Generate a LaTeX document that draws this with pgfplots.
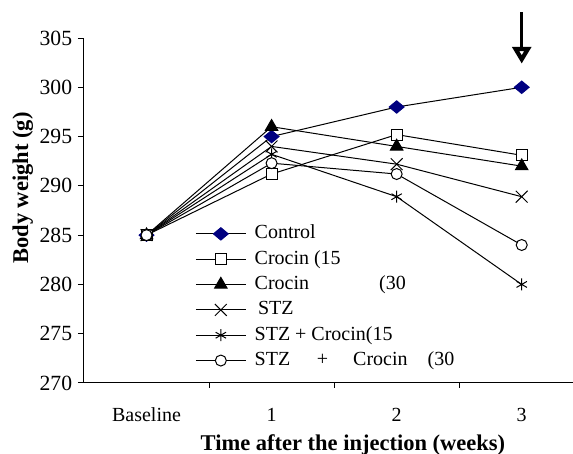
\documentclass[border=0pt]{standalone}
\usepackage{fontspec}
\setmainfont{Liberation Serif}
\usepackage{pgfplots}
\pgfplotsset{compat=1.18}
\usetikzlibrary{arrows.meta,calc}
\definecolor{navy}{RGB}{0,0,128}

\begin{document}
\begin{tikzpicture}
\begin{axis}[
  scale only axis, width=293.4pt, height=207pt,
  xmin=-0.5, xmax=3.41, ymin=270, ymax=305,
  axis x line*=bottom, axis y line*=left,
  axis line style={-, line width=0.6pt},
  clip=false,
  /pgf/number format/assume math mode=true,
  ytick={270,275,...,305},
  xtick={0,1,2,3}, xticklabels={Baseline,1,2,3},
  major x tick style={draw=none},
  minor xtick={0.5,1.5,2.5},
  tick align=outside,
  major tick length=3.6pt, minor tick length=3pt,
  tick style={line width=0.6pt, black},
  yticklabel style={font=\fontsize{13}{13}\selectfont},
  xticklabel style={font=\fontsize{12}{12}\selectfont, anchor=base, yshift=-19.8pt},
  every axis y label/.style={at={(axis description cs:-0.1145,0.565)}, anchor=base, rotate=90, font=\fontsize{13.5}{14}\selectfont\bfseries},
  every axis x label/.style={at={(axis description cs:0.55,-0.197)}, anchor=base, font=\fontsize{13.5}{14}\selectfont\bfseries},
  ylabel={Body weight (g)},
  xlabel={Time after the injection (weeks)},
  legend style={draw=none, fill=none, at={(axis description cs:0.227,0.467)}, anchor=north west,
    font=\fontsize{12}{12}\selectfont, row sep=1.2pt, inner sep=0pt,
    nodes={inner sep=1pt, text height=9pt, text depth=3pt},
    /tikz/every odd column/.append style={column sep=4pt},
    cells={anchor=west}},
  legend image code/.code={\draw[mark repeat=2,mark phase=2,#1] plot coordinates {(0pt,0pt) (15pt,0pt) (30pt,0pt)};},
  every axis plot/.append style={line width=0.6pt},
]
\addplot[black, mark=diamond*, mark size=3.7pt, mark options={fill=navy, draw=navy, xscale=1.6}]
  coordinates {(0,285) (1,295) (2,298) (3,300)};
\addlegendentry{Control}
\addplot[black, mark=square*, mark size=3.3pt, mark options={fill=white, draw=black}]
  coordinates {(0,285) (1,291.2) (2,295.2) (3,293.1)};
\addlegendentry{Crocin (15}
\addplot[black, mark=triangle*, mark size=4.3pt, mark options={fill=black}]
  coordinates {(0,285) (1,296) (2,294) (3,292)};
\addlegendentry{Crocin\hspace{42pt}(30}
\addplot[black, mark=x, mark size=5pt]
  coordinates {(0,285) (1,294) (2,292.2) (3,288.9)};
\addlegendentry{\hspace{2pt}STZ}
\addplot[black, mark=asterisk, mark size=3.6pt]
  coordinates {(0,285) (1,293.2) (2,288.9) (3,280)};
\addlegendentry{STZ + Crocin(15}
\addplot[black, mark=*, mark size=3.3pt, mark options={fill=white, draw=black}]
  coordinates {(0,285) (1,292.3) (2,291.2) (3,284)};
\addlegendentry{STZ\hspace{16pt}+\hspace{15pt}Crocin\hspace{12pt}(30}
\draw[line width=1.8pt, -{Triangle[open, length=10pt, width=11pt, line width=2.6pt]}]
  (axis cs:3,307.6) -- (axis cs:3,302.4);
\coordinate (SW) at (rel axis cs:0,0);
\end{axis}
\pgfresetboundingbox
\path[use as bounding box] ($(SW)+(-50.4pt,-42.6pt)$) rectangle ($(SW)+(293.4pt,229.8pt)$);
\end{tikzpicture}
\end{document}
